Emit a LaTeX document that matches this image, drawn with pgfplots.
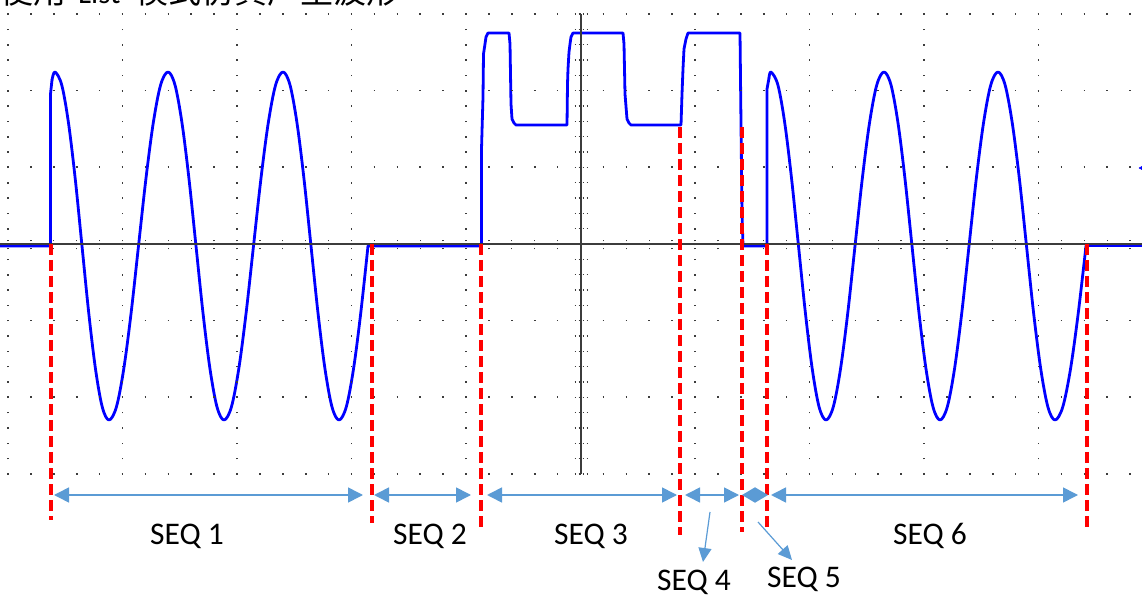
\documentclass[border=0pt]{standalone}
\usepackage{pgfplots}
\pgfplotsset{compat=1.18}
\usetikzlibrary{arrows.meta}
\usepackage{fontspec}
\setmainfont{Carlito}
\newfontfamily\cjk{Noto Sans CJK SC}
\definecolor{scopeblue}{RGB}{0,0,255}
\definecolor{arrowblue}{RGB}{91,155,213}
\definecolor{gridgray}{RGB}{60,60,60}
\begin{document}
\begin{tikzpicture}
\begin{axis}[
  width=1142pt, height=597pt, scale only axis,
  xmin=0, xmax=1142, ymin=-353, ymax=244,
  hide axis, clip=false,
]
% ---- waveform
\pgfplotsset{wave/.style={scopeblue, line width=2.8pt, line join=round, line cap=round}}
\addplot[wave] coordinates {(0,-2) (50.5,-2) (50.5,150) (52,164)};
\addplot[wave, smooth, tension=0.55] coordinates {
(52,164) (55,172)
(61.75,159) (68.5,121) (75.25,65) (82,-2) (88.75,-69) (95.5,-125) (102.25,-163) (109,-176)
(116.4,-163) (123.75,-125) (131.1,-69) (138.5,-2) (145.9,65) (153.25,121) (160.6,159) (168,172)
(175,159) (182,121) (189,65) (196,-2) (203,-69) (210,-125) (217,-163) (224,-176)
(231.4,-163) (238.75,-125) (246.1,-69) (253.5,-2) (260.9,65) (268.25,121) (275.6,159) (283,172)
(290,159) (297,121) (304,65) (311,-2) (318,-69) (325,-125) (332,-163) (339,-176)
(346.25,-163) (353.5,-125) (360.75,-69) (368,-2)
};
\addplot[wave] coordinates {
(368,-2) (481.5,-2)
(481.5,95) (483,147) (483.5,190) (485,200) (486,207) (488,211) (509,211) (510,200) (511,140) (512,125) (514,121) (516,119)
(567,119) (567.5,160) (568,175) (569,192) (570,200) (571,207) (573,211) (623,211) (624,200) (625,150) (627,125) (629,121) (631,119)
(681,119) (682,150) (683,175) (684,195) (686,205) (688,211) (740,211) (741,120) (742,30) (743,-2) (767,-2)
(767,155) (769,166)
};
\addplot[wave, smooth, tension=0.55] coordinates {
(769,166) (771,172)
(777.9,159) (784.75,121) (791.6,65) (798.5,-2) (805.4,-69) (812.25,-125) (819.1,-163) (826,-176)
(833.25,-163) (840.5,-125) (847.75,-69) (855,-2) (862.25,65) (869.5,121) (876.75,159) (884,172)
(891,159) (898,121) (905,65) (912,-2) (919,-69) (926,-125) (933,-163) (940,-176)
(947.25,-163) (954.5,-125) (961.75,-69) (969,-2) (976.25,65) (983.5,121) (990.75,159) (998,172)
(1005.1,159) (1012.25,121) (1019.4,65) (1026.5,-2) (1033.6,-69) (1040.75,-125) (1047.9,-163) (1055,-176)
(1062.75,-163) (1070.5,-125) (1078.25,-69) (1086,-2)
};
\addplot[wave] coordinates {(1086,-2) (1142,-2)};
% ---- graticule
\pgfplotsinvokeforeach{230,153.3,76.7,-76.7,-153.3,-230}{
  \draw[gridgray, line width=1.6pt, dash pattern=on 1.6pt off 21.3pt] (7.2,#1) -- (1142,#1);
}
\pgfplotsinvokeforeach{8,122.5,237,351.5,466,695,809.5,924,1038.5}{
  \draw[gridgray, line width=1.6pt, dash pattern=on 1.6pt off 13.73pt] (#1,-230.8) -- (#1,231);
}
\draw[gridgray, line width=2pt] (0,0) -- (1142,0);
\draw[gridgray, line width=2pt] (580.5,-230) -- (580.5,230);
\pgfplotsinvokeforeach{0,...,49}{
  \draw[gridgray, line width=1.3pt, dash pattern=on 1.3pt off 2.7pt] ({8+22.9*#1},-5.3) -- ({8+22.9*#1},5.5);
}
\pgfplotsinvokeforeach{0,...,30}{
  \draw[gridgray, line width=1.3pt, dash pattern=on 1.3pt off 2.7pt] (574.7,{-230+15.333*#1}) -- (587,{-230+15.333*#1});
}
% ---- trigger level marker
\addplot[only marks, mark=triangle*, mark size=4pt, scopeblue, mark options={rotate=90}] coordinates {(1143,76)};
% ---- red dashed sequence boundaries
\addplot[red, line width=4pt, dash pattern=on 11pt off 5pt] coordinates {(51,0) (51,-276)};
\addplot[red, line width=4pt, dash pattern=on 11pt off 5pt] coordinates {(372,0) (372,-279)};
\addplot[red, line width=4pt, dash pattern=on 11pt off 5pt] coordinates {(481,0) (481,-284)};
\addplot[red, line width=4pt, dash pattern=on 11pt off 5pt] coordinates {(680,117) (680,-291)};
\addplot[red, line width=4pt, dash pattern=on 11pt off 5pt] coordinates {(742,117) (742,-288)};
\addplot[red, line width=4pt, dash pattern=on 11pt off 5pt] coordinates {(767,0) (767,-288)};
\addplot[red, line width=4pt, dash pattern=on 11pt off 5pt] coordinates {(1087,0) (1087,-283)};
% ---- span arrows
\tikzset{span/.style={arrowblue, line width=1.6pt, {Triangle[length=15pt,width=15pt]}-{Triangle[length=15pt,width=15pt]}}}
\draw[span] (54,-251) -- (363,-251);
\draw[span] (374,-251) -- (471,-251);
\draw[span] (487,-251) -- (677,-251);
\draw[span] (685,-251) -- (739,-251);
\draw[arrowblue, line width=1.6pt, {Triangle[length=13pt,width=15pt]}-{Triangle[length=13pt,width=15pt]}] (742,-251) -- (768,-251);
\draw[span] (771,-251) -- (1078,-251);
\draw[arrowblue, line width=1.2pt, -{Triangle[length=14pt,width=13pt]}] (710,-268) -- (703,-318);
\draw[arrowblue, line width=1.2pt, -{Triangle[length=14pt,width=13pt]}] (758,-278) -- (792,-316);
% ---- labels
\tikzset{seq/.style={anchor=base, inner sep=0pt, font=\fontsize{31.5}{36}\selectfont}}
\node[seq] at (187,-300) {SEQ 1};
\node[seq] at (430,-300) {SEQ 2};
\node[seq] at (591,-300) {SEQ 3};
\node[seq] at (930,-300) {SEQ 6};
\node[seq] at (694,-346) {SEQ 4};
\node[seq] at (804,-343) {SEQ 5};
% ---- title, cut off at the top edge as in the reference
\node[anchor=base west, inner sep=0pt] at (0,240.5) {\fontsize{33}{40}\selectfont\cjk 使用\hspace{12pt}{\rmfamily\fontsize{31}{36}\selectfont List}\hspace{15pt}模式仿真产生波形};
\end{axis}
\pgfresetboundingbox
\useasboundingbox (0,0) rectangle (1142pt,597pt);
\end{tikzpicture}
\end{document}
